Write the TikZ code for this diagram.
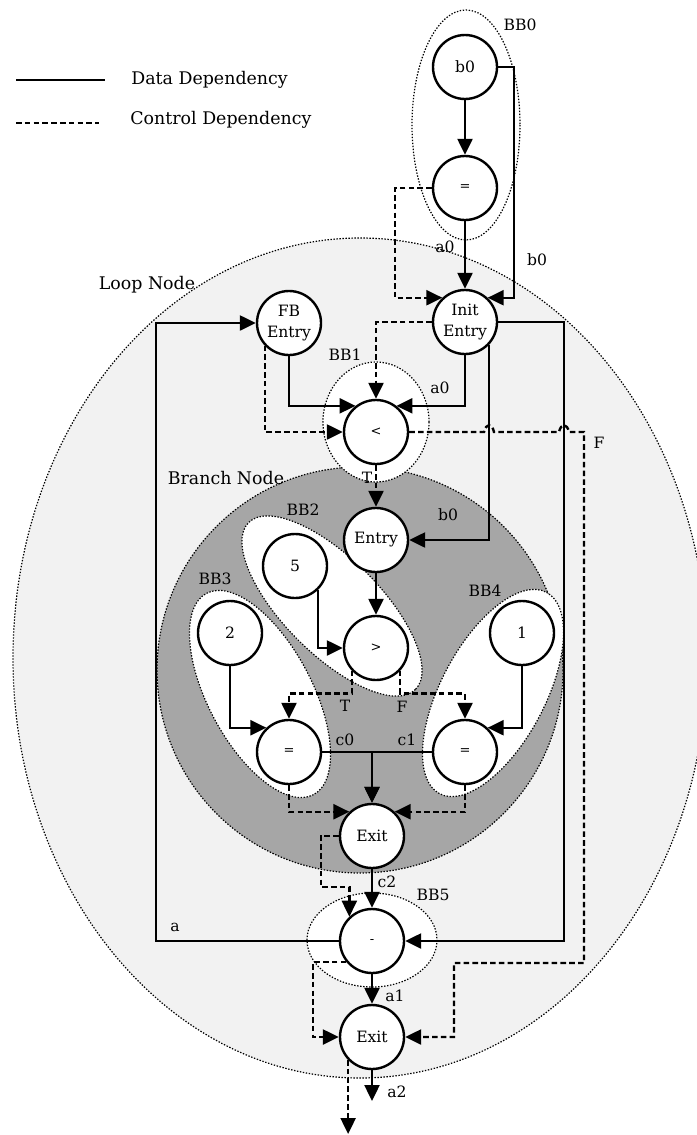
\documentclass[tikz,border=0pt]{standalone}
\usepackage{fontspec}
\setmainfont{DejaVu Serif}
\usetikzlibrary{arrows.meta,calc}
\definecolor{LoopGray}{HTML}{F2F2F2}
\definecolor{BranchGray}{HTML}{A6A6A6}
\tikzset{
  % Operation node: white circle, thick rim
  op/.style={
    circle, draw=black, fill=white, line width=1.2pt,
    minimum size=32pt, inner sep=0pt,
    align=center, font=\fontsize{7.8}{10.5}\selectfont
  },
  % Operator symbol node
  sym/.style={op, font=\fontsize{6.5}{7}\selectfont},
  % Data dependency
  data/.style={-{Triangle[length=8pt,width=7.5pt]}, line width=1.2pt},
  % Control dependency
  ctrl/.style={data, dash pattern=on 2.8pt off 1.6pt},
  % Basic block outline
  bb/.style={draw=black, fill=white, line width=0.6pt, dash pattern=on 0.7pt off 0.8pt},
  % Region outline
  region/.style={draw=black, line width=0.6pt, dash pattern=on 0.7pt off 0.8pt},
  % Edge label
  lbl/.style={font=\fontsize{7.8}{9}\selectfont, inner sep=0pt},
  % Region and legend text
  big/.style={font=\fontsize{8.7}{10}\selectfont, inner sep=0pt}
}

\begin{document}
\begin{tikzpicture}[x=0.5pt, y=-0.5pt]
  \useasboundingbox (0,0) rectangle (696,1135);

  % Regions
  \draw[region, fill=LoopGray] (360,658) ellipse [x radius=347, y radius=420];
  \draw[region, fill=BranchGray] (360,670) circle [radius=203];

  % Basic blocks
  \draw[bb] (466,125) ellipse [x radius=54, y radius=115];
  \draw[bb] (376,422) ellipse [x radius=53, y radius=60];
  \draw[bb, rotate around={-45:(332,606)}] (332,606) ellipse [x radius=118, y radius=48];
  \draw[bb, rotate around={-62:(260,694)}] (260,694) ellipse [x radius=114, y radius=52];
  \draw[bb, rotate around={62:(493,693)}] (493,693) ellipse [x radius=114, y radius=52];
  \draw[bb] (372,940) ellipse [x radius=65, y radius=47];

  % Legend
  \coordinate (dl0) at (16,80);
  \coordinate (dl1) at (105,80);
  \coordinate (cl0) at (16,123);
  \coordinate (cl1) at (99,123);
  \draw[line width=1.3pt] (dl0) -- (dl1);
  \draw[line width=1.3pt, dash pattern=on 2.8pt off 1.6pt] (cl0) -- (cl1);
  \node[big, anchor=west] (ldata) at (131,80) {Data Dependency};
  \node[big, anchor=west] (lctrl) at (130,120) {Control Dependency};

  % Operations
  \node[op]  (b0)    at (465,67)   {b0};
  \node[sym] (eq0)   at (465,188)  {=};
  \node[op]  (init)  at (465,322)  {Init\\Entry};
  \node[op]  (fb)    at (289,323)  {FB\\Entry};
  \node[sym] (lt)    at (376,432)  {<};
  \node[op]  (entry) at (376,540)  {Entry};
  \node[op]  (five)  at (295,566)  {5};
  \node[sym] (gt)    at (376,648)  {>};
  \node[op]  (two)   at (230,633)  {2};
  \node[op]  (one)   at (522,633)  {1};
  \node[sym] (eqL)   at (289,752)  {=};
  \node[sym] (eqR)   at (465,752)  {=};
  \node[op]  (bexit) at (372,836)  {Exit};
  \node[sym] (sub)   at (372,941)  {-};
  \node[op]  (lexit) at (372,1037) {Exit};
  \coordinate (aout) at (372,1101);
  \coordinate (cout) at (349,1134);

  % Dependencies
  \draw[data] (b0) -- (eq0);
  \draw[data] (eq0) -- (init);
  \draw[data] (b0.east) -- ++(16,0) |- (init.47);
  \draw[ctrl] (eq0.west) -- ++(-37,0) |- (init.133);
  \draw[data] (init.east) -- ++(66,0) |- (sub.east);
  \draw[data] (sub.west) -- ++(-183,0) |- (fb.west);
  \draw[data] (fb.south) |- (lt.128);
  \draw[data] (init.south) |- (lt.52);
  \draw[ctrl] (init.west) -| (lt.north);
  \draw[ctrl] (fb.223) |- (lt.west);
  \draw[ctrl] (lt.east) -- (484,432) .. controls (486,423) and (492,423) .. (494,432)
    -- (559,432) .. controls (561,423) and (567,423) .. (569,432)
    -- (584,432) -- (584,963) -- (454,963) |- (lexit.east);
  \draw[ctrl] (lt.south) -- (entry.north);
  \draw[data] (init.317) |- (entry.east);
  \draw[data] (entry) -- (gt);
  \draw[data] (five.314) |- (gt.west);
  \draw[data] (two.south) |- (eqL.133);
  \draw[data] (one.south) |- (eqR.47);
  \draw[ctrl] (gt.223) -- ++(0,23) -| (eqL.north);
  \draw[ctrl] (gt.317) -- ++(0,23) -| (eqR.north);
  \draw[data] (eqL.east) -| (bexit.north);
  \draw[data] (eqR.west) -| (bexit.north);
  \draw[ctrl] (eqL.south) |- (bexit.133);
  \draw[ctrl] (eqR.south) |- (bexit.47);
  \draw[ctrl] (bexit.west) -- ++(-18,0) -- ++(0,51) -| (sub.133);
  \draw[data] (bexit) -- (sub);
  \draw[ctrl] (sub.219) -- ++(-33,0) |- (lexit.west);
  \draw[data] (sub) -- (lexit);
  \draw[data] (lexit.south) -- (aout);
  \draw[ctrl] (lexit.224) -- (lexit.224 |- cout);

  % Labels
  \node[lbl] (bb0)  at (520,25)   {BB0};
  \node[lbl] (la0)  at (445,247)  {a0};
  \node[lbl] (lb0)  at (537,260)  {b0};
  \node[big] (loop) at (147,285)  {Loop Node};
  \node[lbl] (bb1)  at (345,355)  {BB1};
  \node[lbl] (la0b) at (440,388)  {a0};
  \node[lbl] (lf)   at (599,443)  {F};
  \node[big] (branch) at (226,478) {Branch Node};
  \node[lbl] (lt1)  at (367,478)  {T};
  \node[lbl] (bb2)  at (303,510)  {BB2};
  \node[lbl] (lb0b) at (448,515)  {b0};
  \node[lbl] (bb3)  at (215,579)  {BB3};
  \node[lbl] (bb4)  at (485,591)  {BB4};
  \node[lbl] (lt2)  at (345,706)  {T};
  \node[lbl] (lf2)  at (402,707)  {F};
  \node[lbl] (lc0)  at (345,740)  {c0};
  \node[lbl] (lc1)  at (407,740)  {c1};
  \node[lbl] (lc2)  at (387,882)  {c2};
  \node[lbl] (bb5)  at (433,895)  {BB5};
  \node[lbl] (la)   at (175,927)  {a};
  \node[lbl] (la1)  at (395,996)  {a1};
  \node[lbl] (la2)  at (397,1092) {a2};
\end{tikzpicture}
\end{document}
